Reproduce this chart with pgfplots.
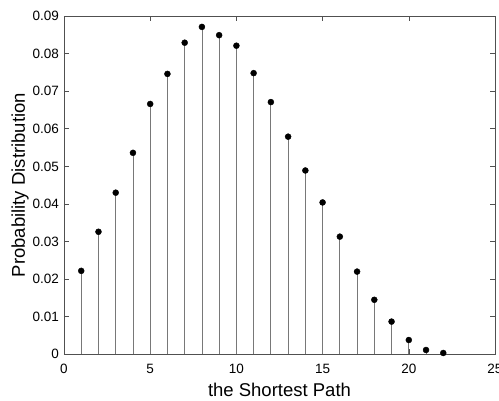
\documentclass[border=0pt]{standalone}
\usepackage{pgfplots}
\pgfplotsset{compat=1.18}
\usepackage{fontspec}
\setmainfont{Liberation Sans}
\definecolor{StemGray}{RGB}{120,120,120}
\definecolor{BoxGray}{RGB}{80,80,80}

\begin{document}
\begin{tikzpicture}
\useasboundingbox (-64bp,-46.7bp) rectangle (435bp,354.3bp);
\begin{axis}[
  at={(0,0)}, anchor=south west,
  scale only axis,
  width=431bp, height=338.3bp,
  xmin=0, xmax=25, ymin=0, ymax=0.09,
  xtick={0,5,...,25},
  ytick={0,0.01,0.02,0.03,0.04,0.05,0.06,0.07,0.08,0.09},
  scaled y ticks=false,
  tick align=inside,
  major tick length=5bp,
  axis line style={BoxGray, line width=0.6bp},
  every tick/.style={BoxGray, line width=0.6bp},
  tick label style={font=\fontsize{13.5bp}{16bp}\selectfont},
  /pgf/number format/assume math mode=true,
  yticklabel style={/pgf/number format/fixed, /pgf/number format/precision=2, xshift=-1.5bp},
  xticklabel style={yshift=-6bp},
  label style={font=\fontsize{18.5bp}{22bp}\selectfont},
  xlabel={the Shortest Path},
  ylabel={Probability Distribution},
  xlabel style={at={(axis description cs:0.5,-0.1253)}, anchor=base},
  ylabel style={at={(axis description cs:-0.0905,0.5)}, anchor=base},
]
\addplot[ycomb, StemGray, line width=0.8bp, mark=none] coordinates {
(1,0.0222)(2,0.0326)(3,0.0430)(4,0.0536)(5,0.0666)(6,0.0746)
(7,0.0829)(8,0.0871)(9,0.0849)(10,0.0821)(11,0.0748)(12,0.0671)
(13,0.0579)(14,0.0489)(15,0.0404)(16,0.0313)(17,0.0220)(18,0.0145)
(19,0.0087)(20,0.0038)(21,0.00115)(22,0.00035)
};
\addplot[only marks, mark=*, mark size=3bp, black] coordinates {
(1,0.0222)(2,0.0326)(3,0.0430)(4,0.0536)(5,0.0666)(6,0.0746)
(7,0.0829)(8,0.0871)(9,0.0849)(10,0.0821)(11,0.0748)(12,0.0671)
(13,0.0579)(14,0.0489)(15,0.0404)(16,0.0313)(17,0.0220)(18,0.0145)
(19,0.0087)(20,0.0038)(21,0.00115)(22,0.00035)
};
\end{axis}
\end{tikzpicture}
\end{document}
